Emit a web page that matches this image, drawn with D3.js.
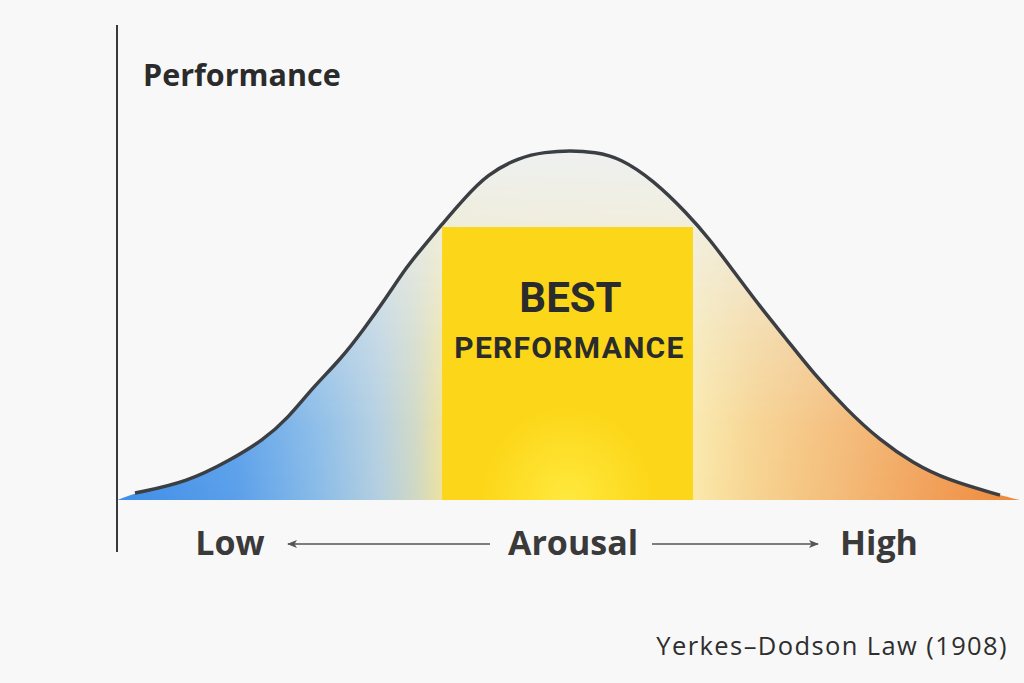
<!DOCTYPE html>
<html>
<head>
<meta charset="utf-8">
<script src="https://cdn.jsdelivr.net/npm/d3@7"></script>
<style>
  html, body { margin: 0; padding: 0; background: #f8f8f8; }
  svg { display: block; }
</style>
</head>
<body>
<svg id="chart" width="1024" height="683"></svg>
<script>
// ---- data ----
const arousal = [0, 6.0, 11.0, 14.8, 17.7, 20.6, 23.7, 26.4, 29.1, 31.4, 33.3, 35.6, 37.9, 40.7,
                 44.5, 47.4, 50.3, 53.2, 56.1, 59.9, 63.8, 66.5, 69.1, 72.3, 75.4, 78.4, 82.3,
                 86.1, 89.9, 93.9, 100];
const performance = [2.0, 5.1, 11.4, 17.1, 23.4, 32.3, 40.0, 48.6, 58.0, 66.6, 72.3, 79.1, 85.7, 93.1,
                     98.0, 99.4, 99.9, 99.4, 97.7, 91.4, 82.0, 74.3, 65.7, 55.1, 45.7, 36.3, 25.7,
                     17.1, 10.6, 5.7, 1.4];
const fillExtent = [-2, 102.3];          // where the coloured fill meets the baseline
const bestZone = [35.5, 64.5];           // arousal range of best performance
const bestLevel = 78;                    // height of the best-performance block
const axisLabels = ["Low", "Arousal", "High"];
const yLabel = "Performance";
const bestText = ["BEST", "PERFORMANCE"];
const caption = "Yerkes\u2013Dodson Law (1908)";

// ---- setup ----
const svg = d3.select("#chart");
const x = d3.scaleLinear().domain([0, 100]).range([135, 1000]);
const y = d3.scaleLinear().domain([0, 100]).range([500, 150]);

const curve = arousal.map((a, i) => ({ a, p: performance[i] }));
const areaData = [{ a: fillExtent[0], p: 0 }, ...curve, { a: fillExtent[1], p: 0 }];

const defs = svg.append("defs");

// horizontal colour gradient
const hg = defs.append("linearGradient").attr("id", "hgrad")
  .attr("gradientUnits", "userSpaceOnUse")
  .attr("x1", x(fillExtent[0])).attr("x2", x(fillExtent[1])).attr("y1", 0).attr("y2", 0);
[[0, "#3f8ee8"], [0.13, "#5a9fea"], [0.22, "#88bbe8"], [0.29, "#b4cfe0"], [0.33, "#cfd8c4"],
 [0.36, "#ede2a0"], [0.64, "#fae8aa"], [0.70, "#f7d592"], [0.80, "#f4bb78"], [0.92, "#f19c54"],
 [1, "#f0883a"]].forEach(([o, c]) => hg.append("stop").attr("offset", o).attr("stop-color", c));

// vertical fade mask
const vg = defs.append("linearGradient").attr("id", "vgrad")
  .attr("gradientUnits", "userSpaceOnUse")
  .attr("x1", 0).attr("x2", 0).attr("y1", y(100)).attr("y2", y(0));
[[0, 0.0], [0.25, 0.3], [0.55, 0.7], [0.8, 0.95], [1, 1]].forEach(([o, v]) =>
  vg.append("stop").attr("offset", o).attr("stop-color", "#fff").attr("stop-opacity", v));
const mask = defs.append("mask").attr("id", "fadeMask");
mask.append("rect").attr("x", 0).attr("y", 0).attr("width", 1024).attr("height", 683)
  .attr("fill", "url(#vgrad)");

// yellow glow at the base of the block
const rg = defs.append("radialGradient").attr("id", "glow")
  .attr("cx", "50%").attr("cy", "100%").attr("r", "35%");
rg.append("stop").attr("offset", 0).attr("stop-color", "#ffe93e");
rg.append("stop").attr("offset", 1).attr("stop-color", "#fcd618");

const area = d3.area().x(d => x(d.a)).y0(y(0)).y1(d => y(d.p)).curve(d3.curveBasis);
const line = d3.line().x(d => x(d.a)).y(d => y(d.p)).curve(d3.curveBasis);

// base light fill
svg.append("path").datum(areaData).attr("d", area).attr("fill", "#eff1f1");
// coloured fill
svg.append("path").datum(areaData).attr("d", area).attr("fill", "url(#hgrad)")
  .attr("mask", "url(#fadeMask)");

// best performance block
svg.append("rect")
  .attr("x", x(bestZone[0])).attr("width", x(bestZone[1]) - x(bestZone[0]))
  .attr("y", y(bestLevel)).attr("height", y(0) - y(bestLevel))
  .attr("fill", "url(#glow)");

// curve
svg.append("path").datum(curve).attr("d", line)
  .attr("fill", "none").attr("stroke", "#3b3e42").attr("stroke-width", 3.5)
  .attr("stroke-linecap", "butt");

// y axis line
svg.append("line").attr("x1", 117).attr("x2", 117).attr("y1", 25).attr("y2", 552)
  .attr("stroke", "#3a3a3a").attr("stroke-width", 2);

// labels
svg.append("text").attr("x", 143).attr("y", 86).text(yLabel)
  .attr("font-family", "Open Sans").attr("font-weight", 700).attr("font-size", 30.5)
  .attr("fill", "#2b2b2b");

const midX = (x(bestZone[0]) + x(bestZone[1])) / 2;
svg.append("text").attr("x", midX + 3).attr("y", 312).attr("text-anchor", "middle").text(bestText[0])
  .attr("font-family", "Roboto").attr("font-weight", 700).attr("font-size", 42)
  .attr("fill", "#2a2b2c");
svg.append("text").attr("x", midX + 2).attr("y", 358).attr("text-anchor", "middle").text(bestText[1])
  .attr("font-family", "Roboto").attr("font-weight", 700).attr("font-size", 30)
  .attr("letter-spacing", 1.3)
  .attr("fill", "#2a2b2c");

const labelStyle = s => s.attr("font-family", "Open Sans").attr("font-weight", 700)
  .attr("font-size", 34).attr("fill", "#3a3a3a");
svg.append("text").attr("x", 230).attr("y", 555).attr("text-anchor", "middle").text(axisLabels[0]).call(labelStyle);
svg.append("text").attr("x", 573).attr("y", 555).attr("text-anchor", "middle").text(axisLabels[1]).call(labelStyle);
svg.append("text").attr("x", 879).attr("y", 555).attr("text-anchor", "middle").text(axisLabels[2]).call(labelStyle);

// arrows
const arrow = defs.append("marker").attr("id", "arr").attr("viewBox", "0 0 10 10")
  .attr("refX", 9).attr("refY", 5).attr("markerWidth", 10).attr("markerHeight", 10)
  .attr("markerUnits", "userSpaceOnUse").attr("orient", "auto");
arrow.append("path").attr("d", "M0,1 L10,5 L0,9 L2.5,5 Z").attr("fill", "#555");
const arrowY = 544;
svg.append("line").attr("x1", 490).attr("x2", 288).attr("y1", arrowY).attr("y2", arrowY)
  .attr("stroke", "#555").attr("stroke-width", 1.6).attr("marker-end", "url(#arr)");
svg.append("line").attr("x1", 652).attr("x2", 818).attr("y1", arrowY).attr("y2", arrowY)
  .attr("stroke", "#555").attr("stroke-width", 1.6).attr("marker-end", "url(#arr)");

// caption
svg.append("text").attr("x", 1008).attr("y", 655).attr("text-anchor", "end").text(caption)
  .attr("font-family", "Open Sans").attr("font-size", 25.5).attr("letter-spacing", 1.4)
  .attr("fill", "#2e2e2e");
</script>
</body>
</html>
